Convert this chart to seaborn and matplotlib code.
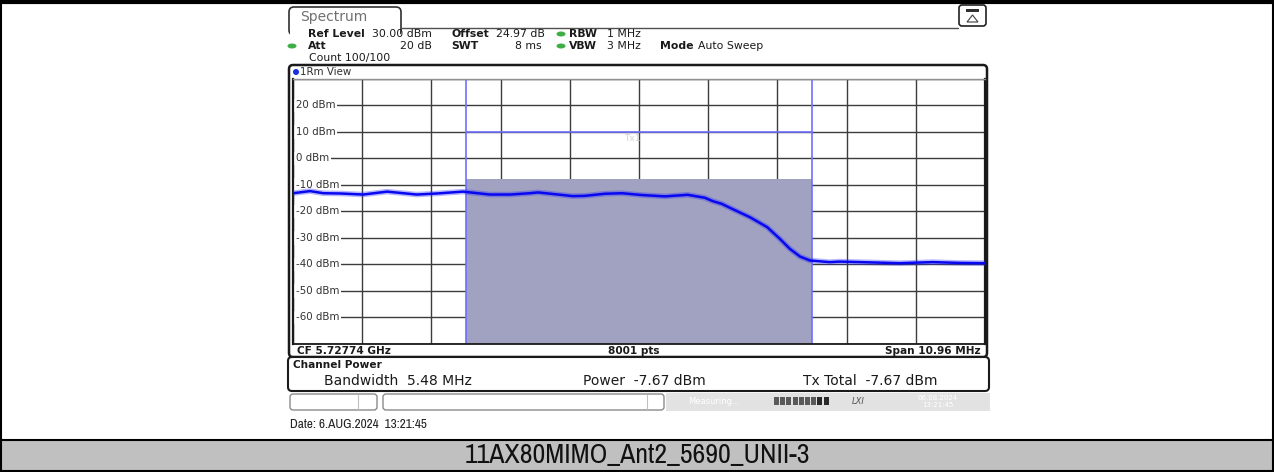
# Channel power screenshot (R&S spectrum analyzer) redrawn with seaborn
import numpy as np
import matplotlib
matplotlib.use('Agg')
import matplotlib.pyplot as plt
import matplotlib.patches as mpatches
import seaborn as sns

# Trace (frequency in MHz, level in dBm)
freq_mhz = [5722.26, 5722.53, 5722.74, 5723.01, 5723.37, 5723.75, 5724.22, 5724.54,
            5724.95, 5725.38, 5725.70, 5726.01, 5726.14, 5726.46, 5726.69, 5726.88,
            5727.20, 5727.47, 5727.79, 5728.15, 5728.51, 5728.78, 5728.91, 5729.05,
            5729.18, 5729.50, 5729.77, 5729.97, 5730.13, 5730.29, 5730.45, 5730.76,
            5730.92, 5731.40, 5731.87, 5732.39, 5732.82, 5733.22]
level_dbm = [-13.1, -12.3, -13.1, -13.2, -13.6, -12.5, -13.6, -13.2,
             -12.5, -13.6, -13.6, -13.1, -12.8, -13.6, -14.2, -14.1,
             -13.3, -13.1, -13.8, -14.3, -13.7, -14.8, -16.1, -17.1,
             -18.6, -22.2, -25.9, -30.3, -34.1, -37.0, -38.5, -39.1,
             -38.9, -39.2, -39.5, -39.1, -39.4, -39.5]

center_mhz = 5727.74
span_mhz = 10.96
ch_bw_mhz = 5.48
ch_power_dbm = -7.67
tx_limit_dbm = 10
y_top, y_bottom = 30, -70
y_labels = [20, 10, 0, -10, -20, -30, -40, -50, -60]

sns.set_style('white')
plt.rcParams['font.family'] = ['DejaVu Sans']
narrow = ['Archivo Narrow', 'PT Sans Narrow', 'Liberation Sans']

W, H = 1274, 472
fig = plt.figure(figsize=(W / 100, H / 100), dpi=100)

# background axes in pixel units (y down) for the screen furniture
bg = fig.add_axes([0, 0, 1, 1], zorder=0)
bg.set_xlim(0, W)
bg.set_ylim(H, 0)
bg.axis('off')

# main diagram
ax = fig.add_axes([293 / W, 1 - 344 / H, 692 / W, 265 / H], zorder=1)
f0 = center_mhz - span_mhz / 2
f1 = center_mhz + span_mhz / 2
ch_low = center_mhz - ch_bw_mhz / 2
ch_high = center_mhz + ch_bw_mhz / 2

ax.set_xlim(f0, f1)
ax.set_ylim(y_bottom, y_top)
ax.set_xticks(np.linspace(f0, f1, 11))
ax.set_yticks(np.arange(y_bottom, y_top + 1, 10))
ax.tick_params(length=0, labelbottom=False, labelleft=False)
ax.grid(True, color='#3c3c3c', lw=1.0)
ax.set_axisbelow(True)
for side in ['left', 'right']:
    ax.spines[side].set_color('#1a1a1a')
    ax.spines[side].set_linewidth(1.6)
ax.spines['top'].set_color('#909090')
ax.spines['top'].set_linewidth(1)
ax.spines['bottom'].set_color('#1a1a1a')
ax.spines['bottom'].set_linewidth(1.3)

# channel power area
ax.fill_between([ch_low, ch_high], y_bottom, ch_power_dbm, color='#a1a1c1', lw=0, zorder=1)
ax.axvline(ch_low, color='#6f6fff', lw=1.2, zorder=2)
ax.axvline(ch_high, color='#6f6fff', lw=1.2, zorder=2)
ax.hlines(tx_limit_dbm, ch_low, ch_high, color='#6f6fff', lw=1.2, zorder=2)
ax.text(center_mhz - 0.1, tx_limit_dbm - 2.3, 'Tx1', color='#d0d0d0', fontsize=6.5,
        ha='center', va='center', zorder=2)

for v in y_labels:
    ax.text(0.004, v, f'{v} dBm', transform=ax.get_yaxis_transform(), fontsize=7.4,
            color='#333333', ha='left', va='center', zorder=1.5,
            bbox=dict(fc='white', ec='none', pad=1.2))

# trace
sns.lineplot(x=freq_mhz, y=level_dbm, ax=ax, color='#3030ff', lw=4, alpha=0.35, zorder=3)
sns.lineplot(x=freq_mhz, y=level_dbm, ax=ax, color='#0808f0', lw=1.8, zorder=4)
ax.set_xlabel('')
ax.set_ylabel('')

# ---- screen furniture ----
# tab
tab = mpatches.FancyBboxPatch((289, 7), 112, 28, boxstyle='round,pad=0,rounding_size=5',
                              fc='white', ec='#303030', lw=1.2, zorder=1)
bg.add_patch(tab)
bg.add_patch(mpatches.Rectangle((290, 27.6), 110, 10, fc='white', ec='none', zorder=2))
bg.plot([401, 958], [27.5, 27.5], color='#505050', lw=1, zorder=2)
bg.text(300, 17, 'Spectrum', fontsize=10, color='#707070', va='center', zorder=5)

# icon top right
bg.add_patch(mpatches.FancyBboxPatch((959, 5), 27, 21, boxstyle='round,pad=0,rounding_size=3',
                                     fc='white', ec='#202020', lw=1.2, zorder=2))
bg.add_patch(mpatches.Rectangle((966, 9), 13, 3, fc='#303030', ec='none', zorder=3))
bg.add_patch(mpatches.Polygon([(967, 22), (978, 22), (972.5, 15)], closed=True,
                              fc='none', ec='#404040', lw=0.8, zorder=3))

# header text
hs = 7.8
def hdr(x, y, s, bold=False, ha='left'):
    bg.text(x, y, s, fontsize=hs, fontweight='bold' if bold else 'normal',
            color='#1a1a1a', ha=ha, va='center', zorder=5)

def led(x, y, color='#3fae46'):
    bg.add_patch(mpatches.Ellipse((x, y), 9, 5, fc=color, ec='none', zorder=5))

hdr(308, 34, 'Ref Level', True)
hdr(372, 34, '30.00 dBm')
hdr(451, 34, 'Offset', True)
hdr(496, 34, '24.97 dB')
led(561, 34)
hdr(569, 34, 'RBW', True)
hdr(607, 34, '1 MHz')
led(292, 46)
hdr(308, 46, 'Att', True)
hdr(432, 46, '20 dB', ha='right')
hdr(451, 46, 'SWT', True)
hdr(542, 46, '8 ms', ha='right')
led(561, 46)
hdr(569, 46, 'VBW', True)
hdr(607, 46, '3 MHz')
hdr(660, 46, 'Mode', True)
hdr(698, 46, 'Auto Sweep')
hdr(309, 58, 'Count 100/100')

# diagram frame
bg.add_patch(mpatches.FancyBboxPatch((289, 65), 698, 292, boxstyle='round,pad=0,rounding_size=4',
                                     fc='white', ec='#1a1a1a', lw=1.8, zorder=1))
bg.add_patch(mpatches.Circle((296, 72), 3, fc='#1a2ee0', ec='none', zorder=5))
bg.text(300, 72, '1Rm View', fontsize=7.4, color='#303030', va='center', zorder=5)

bg.text(297, 350.5, 'CF 5.72774 GHz', fontsize=7.6, fontweight='bold', color='#1a1a1a', va='center', zorder=5)
bg.text(634, 350.5, '8001 pts', fontsize=7.6, fontweight='bold', color='#1a1a1a', va='center', ha='center', zorder=5)
bg.text(981, 350.5, 'Span 10.96 MHz', fontsize=7.6, fontweight='bold', color='#1a1a1a', va='center', ha='right', zorder=5)

# channel power result box
bg.add_patch(mpatches.FancyBboxPatch((288, 357), 701, 34, boxstyle='round,pad=0,rounding_size=4',
                                     fc='white', ec='#1a1a1a', lw=1.5, zorder=1))
bg.text(293, 365, 'Channel Power', fontsize=7.6, fontweight='bold', color='#1a1a1a', va='center', zorder=5)
bg.text(324, 381, 'Bandwidth  5.48 MHz', fontsize=10, color='#1a1a1a', va='center', zorder=5)
bg.text(583, 381, 'Power  -7.67 dBm', fontsize=10, color='#1a1a1a', va='center', zorder=5)
bg.text(803, 381, 'Tx Total  -7.67 dBm', fontsize=10, color='#1a1a1a', va='center', zorder=5)

# status bar
bg.add_patch(mpatches.FancyBboxPatch((290, 394), 87, 16, boxstyle='round,pad=0,rounding_size=3',
                                     fc='white', ec='#8a8a8a', lw=1, zorder=2))
bg.plot([358, 358], [395, 409], color='#c0c0c0', lw=0.8, zorder=3)
bg.add_patch(mpatches.FancyBboxPatch((383, 394), 281, 16, boxstyle='round,pad=0,rounding_size=3',
                                     fc='white', ec='#8a8a8a', lw=1, zorder=2))
bg.plot([647, 647], [395, 409], color='#c0c0c0', lw=0.8, zorder=3)
bg.add_patch(mpatches.Rectangle((666, 393), 324, 18, fc='#e2e2e2', ec='none', zorder=2))
bg.text(688, 401, 'Measuring...', fontsize=6, color='white', va='center', zorder=4)
for i in range(9):
    bg.add_patch(mpatches.Rectangle((774 + i * 6.2, 397), 5, 8,
                                    fc='#5a5a5a' if i < 7 else '#2a2a2a', ec='none', zorder=4))
bg.text(858, 401, 'LXI', fontsize=6, color='#555555', va='center', ha='center', style='italic', zorder=4)
bg.text(938, 398, '06.08.2024', fontsize=5, color='white', va='center', ha='center', zorder=4)
bg.text(938, 405, '13:21:45', fontsize=5, color='white', va='center', ha='center', zorder=4)

# date stamp
bg.text(290, 424, 'Date: 6.AUG.2024  13:21:45', fontsize=9.5, family=narrow,
        color='#222222', va='center')

# caption band
bg.add_patch(mpatches.Rectangle((0, 440), W, H - 440, fc='#c0c0c0', ec='none', zorder=1))
bg.plot([0, W], [440, 440], color='black', lw=1.5, zorder=2)
bg.text(W / 2, 456, '11AX80MIMO_Ant2_5690_UNII-3', fontsize=20, family=narrow,
        color='#111111', ha='center', va='center', zorder=3)

# outer border
bg.add_patch(mpatches.Rectangle((0.75, 0.75), W - 1.5, H - 1.5, fc='none', ec='black', lw=1.5, zorder=6))
bg.plot([0, W], [1.5, 1.5], color='black', lw=3, zorder=6)

fig.savefig('out.png', dpi=100)
